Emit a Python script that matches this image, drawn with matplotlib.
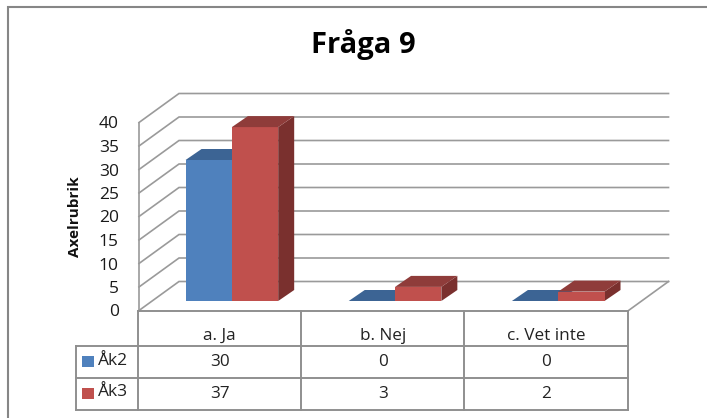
import matplotlib
matplotlib.use("Agg")
import matplotlib.pyplot as plt
from matplotlib.patches import Polygon, Rectangle

plt.rcParams['font.family'] = ['Open Sans', 'DejaVu Sans']

title = "Fråga 9"
y_label = "Axelrubrik"
categories = ["a. Ja", "b. Nej", "c. Vet inte"]
series_names = ["Åk2", "Åk3"]
ak2 = [30, 0, 0]
ak3 = [37, 3, 2]
y_ticks = [0, 5, 10, 15, 20, 25, 30, 35, 40]

W, H = 707, 418
GRID = "#9a9a9a"
TABLE = "#8f8f8f"
BLUE = ("#4F81BD", "#3C6494", "#2F4F76")
RED = ("#C0504D", "#8F3C3A", "#7A302E")

# front plane of the chart, in pixels
X0, X1, Y0, Y40 = 139.0, 628.5, 310.5, 122.5
CAT_PX = (X1 - X0) / 3
UNIT_PX = (Y0 - Y40) / 40
# depth of the chart box and of the bars, in pixels
BOX_DX, BOX_DY = 40.0, 29.0
BAR_DX, BAR_DY = 16.0, 11.0
BAR_PX = 46.3
FLOOR_DY = 9.5
GROUP_SHIFT = 11.3

fig = plt.figure(figsize=(W / 100, H / 100), dpi=100, facecolor="white")
ax = fig.add_axes([X0 / W, 1 - Y0 / H, (X1 - X0) / W, (Y0 - Y40) / H])
ax.set_xlim(0, 3)
ax.set_ylim(0, 40)
ax.patch.set_alpha(0)
for s in ("top", "right", "bottom"):
    ax.spines[s].set_visible(False)
ax.spines["left"].set_color(GRID)
ax.spines["left"].set_linewidth(1.2)
ax.set_xticks([])
ax.set_yticks(y_ticks)
ax.tick_params(axis="y", length=0, pad=14.5, labelsize=12.5, labelcolor="#1a1a1a")
ax.set_ylabel(y_label, fontsize=11, fontweight="bold", labelpad=12, color="#111111")


def dx(px):
    return px / CAT_PX


def dy(px):
    return px / UNIT_PX


# walls: one back line and one side line per tick, plus the floor's right edge
for v in y_ticks:
    ax.plot([0, dx(BOX_DX), 3 + dx(BOX_DX)], [v, v + dy(BOX_DY), v + dy(BOX_DY)],
            color=GRID, lw=1.2, clip_on=False, zorder=1, solid_joinstyle="miter")
ax.plot([3, 3 + dx(BOX_DX)], [0, dy(BOX_DY)], color=GRID, lw=1.2, clip_on=False, zorder=1)


def bar(left, value, colours, z):
    right = left + dx(BAR_PX)
    base = dy(FLOOR_DY)
    top = base + value
    ddx, ddy = dx(BAR_DX), dy(BAR_DY)
    front, upper, side = colours
    ax.add_patch(Polygon([(right, base), (right + ddx, base + ddy),
                          (right + ddx, top + ddy), (right, top)],
                         fc=side, ec="none", clip_on=False, zorder=z))
    if value > 0:
        ax.add_patch(Rectangle((left, base), right - left, value,
                               fc=front, ec="none", clip_on=False, zorder=z + 0.1))
    ax.add_patch(Polygon([(left, top), (left + ddx, top + ddy),
                          (right + ddx, top + ddy), (right, top)],
                         fc=upper, ec="none", clip_on=False, zorder=z + 0.2))


for i, (a, b) in enumerate(zip(ak2, ak3)):
    centre = i + 0.5 + dx(GROUP_SHIFT)
    bar(centre - dx(BAR_PX), a, BLUE, 2)
    bar(centre, b, RED, 3)

# overlay in pixel coordinates: frame, title and data table
ov = fig.add_axes([0, 0, 1, 1])
ov.set_xlim(0, W)
ov.set_ylim(H, 0)
ov.axis("off")
ov.patch.set_alpha(0)

ov.plot([W, 7.5, 7.5], [6.5, 6.5, 417], color="#868686", lw=1.5, solid_joinstyle="miter")
ov.text(363.5, 44, title, ha="center", va="center", fontsize=21, fontweight="bold", color="black")

T_LEFT = 75.5
ROWS = [346.0, 377.5, 409.5]
COLS = [X0 - 1 + k * CAT_PX for k in range(4)]
lw = 1.4
for x in COLS:
    ov.plot([x, x], [Y0, ROWS[-1]], color=TABLE, lw=lw, solid_capstyle="projecting")
ov.plot([COLS[0], COLS[-1]], [Y0, Y0], color=TABLE, lw=lw)
ov.plot([T_LEFT, T_LEFT], [ROWS[0], ROWS[-1]], color=TABLE, lw=lw, solid_capstyle="projecting")
for y in ROWS:
    ov.plot([T_LEFT, COLS[-1]], [y, y], color=TABLE, lw=lw, solid_capstyle="projecting")

TXT = "#222222"
for k, c in enumerate(categories):
    ov.text(COLS[k] + CAT_PX / 2, 335.5, c, ha="center", va="center", fontsize=12.3, color=TXT)
for r, (name, vals, col) in enumerate(zip(series_names, (ak2, ak3), (BLUE[0], RED[0]))):
    yc = (ROWS[r] + ROWS[r + 1]) / 2
    ov.add_patch(Rectangle((82, yc - 5.5), 11.5, 10.5, fc=col, ec="none"))
    ov.text(97.5, yc - 1, name, ha="left", va="center", fontsize=12.5, color=TXT)
    for k, v in enumerate(vals):
        ov.text(COLS[k] + CAT_PX / 2, yc, str(v), ha="center", va="center", fontsize=12.3, color=TXT)

fig.savefig("out.png", dpi=100, facecolor="white")
